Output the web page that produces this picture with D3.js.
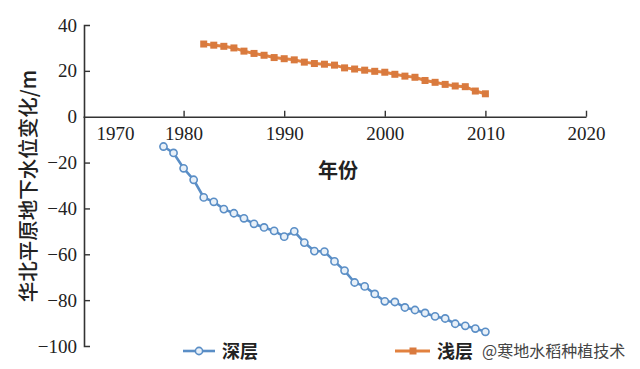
<!DOCTYPE html>
<html><head><meta charset="utf-8">
<script src="https://cdn.jsdelivr.net/npm/d3@7"></script>
<style>body{margin:0;background:#fff;}svg{display:block;}</style>
</head><body>
<svg id="c" width="640" height="369"></svg>
<script>
const deepYears = d3.range(1978, 2011);
const deepValues = [-13, -15.8, -22.5, -27.5, -35.2, -37.1, -40.3, -42.1, -44.3, -46.7, -48.3, -49.8, -52.3, -50, -54.9, -58.6, -58.8, -63.1, -67.1, -72.3, -74, -77.3, -80.5, -80.8, -83.2, -84.3, -85.6, -87.1, -88, -90.3, -91.2, -92.4, -93.8];
const shallowYears = d3.range(1982, 2011);
const shallowValues = [31.7, 31.2, 30.7, 30.0, 28.6, 27.6, 26.8, 25.8, 25.3, 24.8, 23.8, 23.2, 22.9, 22.5, 21.3, 20.8, 20.3, 19.8, 19.4, 18.5, 17.7, 17.2, 15.8, 15.0, 14.1, 13.4, 13.1, 11.2, 10.0];
const xTicks = [1970, 1980, 1990, 2000, 2010, 2020];
const yTicks = [-100, -80, -60, -40, -20, 0, 20, 40];
const seriesNames = ["深层", "浅层"];
const xTitle = "年份";
const yTitle = "华北平原地下水位变化/m";
const watermark = "@寒地水稻种植技术";

const blue = "#5a8ec6", orange = "#e2813f", axisColor = "#333";
const svg = d3.select("#c");
const x = d3.scaleLinear().domain([1970, 2020]).range([83, 586]);
const y = d3.scaleLinear().domain([-100, 40]).range([346, 25]);

// y axis
const ya = svg.append("g").attr("transform", `translate(${x(1970)+1},0)`)
  .call(d3.axisLeft(y).tickValues(yTicks).tickSizeInner(-6).tickSizeOuter(-6).tickPadding(7).tickFormat(d3.format("d")));
ya.selectAll("text").attr("font-family", "Liberation Serif, serif").attr("font-size", 19).attr("fill", "#222");
ya.select(".domain").attr("stroke", axisColor).attr("stroke-width", 1.6);
ya.selectAll(".tick line").attr("stroke", axisColor).attr("stroke-width", 1.4);
ya.selectAll(".tick").filter(d => d === 0 || d === 40 || d === -100).select("line").remove();

// x axis
const xa = svg.append("g").attr("transform", `translate(0,${y(0)})`)
  .call(d3.axisBottom(x).tickValues(xTicks).tickSizeInner(-6).tickSizeOuter(0).tickPadding(9).tickFormat(d3.format("d")));
xa.selectAll("text").attr("font-family", "Liberation Serif, serif").attr("font-size", 19).attr("fill", "#222").attr("dy", "0.75em");
xa.select(".domain").attr("stroke", axisColor).attr("stroke-width", 1.6);
xa.selectAll(".tick line").attr("stroke", axisColor).attr("stroke-width", 1.4);
xa.selectAll(".tick").filter(d => d === 1970).select("line").remove();
xa.selectAll(".tick").filter(d => d === 1970).select("text").attr("dx", 32);

// titles
svg.append("text").attr("x", 338).attr("y", 178).attr("text-anchor", "middle")
  .attr("font-family", "Noto Sans CJK SC").attr("font-weight", "bold").attr("font-size", 20).attr("fill", "#222").text(xTitle);
svg.append("text").attr("transform", "translate(36,186) rotate(-90)").attr("text-anchor", "middle")
  .attr("font-family", "Noto Sans CJK SC").attr("font-weight", 500).attr("font-size", 20.5).attr("fill", "#222").text(yTitle);

// lines
const line = d3.line().x(d => x(d[0])).y(d => y(d[1]));
const deep = deepYears.map((yr, i) => [yr, deepValues[i]]);
const shallow = shallowYears.map((yr, i) => [yr, shallowValues[i]]);

svg.append("path").datum(deep).attr("d", line).attr("fill", "none").attr("stroke", blue).attr("stroke-width", 2.6);
svg.append("g").selectAll("circle").data(deep).join("circle")
  .attr("cx", d => x(d[0])).attr("cy", d => y(d[1])).attr("r", 3.6)
  .attr("fill", "#e8f0f8").attr("stroke", blue).attr("stroke-width", 1.6);

svg.append("path").datum(shallow).attr("d", line).attr("fill", "none").attr("stroke", orange).attr("stroke-width", 3);
svg.append("g").selectAll("rect").data(shallow).join("rect")
  .attr("x", d => x(d[0]) - 3.5).attr("y", d => y(d[1]) - 3.5).attr("width", 7).attr("height", 7)
  .attr("fill", "#d97a3e");

// legend
const lg = svg.append("g");
lg.append("line").attr("x1", 183).attr("x2", 215).attr("y1", 351).attr("y2", 351).attr("stroke", blue).attr("stroke-width", 2.6);
lg.append("circle").attr("cx", 199).attr("cy", 351).attr("r", 3.6).attr("fill", "#e8f0f8").attr("stroke", blue).attr("stroke-width", 1.6);
lg.append("text").attr("x", 222).attr("y", 357.5).attr("font-family", "Noto Sans CJK SC").attr("font-weight", "bold").attr("font-size", 18).attr("fill", "#222").text(seriesNames[0]);
lg.append("line").attr("x1", 395).attr("x2", 430).attr("y1", 351).attr("y2", 351).attr("stroke", orange).attr("stroke-width", 3);
lg.append("rect").attr("x", 409.5).attr("y", 347.5).attr("width", 7).attr("height", 7).attr("fill", "#d97a3e");
lg.append("text").attr("x", 437).attr("y", 357.5).attr("font-family", "Noto Sans CJK SC").attr("font-weight", "bold").attr("font-size", 18).attr("fill", "#222").text(seriesNames[1]);
lg.append("text").attr("x", 482).attr("y", 357).attr("font-family", "Noto Sans CJK SC").attr("font-size", 16).attr("fill", "#444").text(watermark);
</script>
</body></html>
